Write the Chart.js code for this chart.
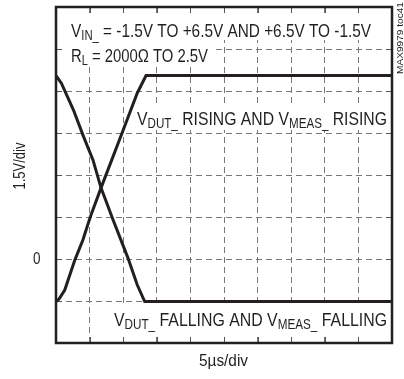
<!DOCTYPE html>
<html>
<head>
<meta charset="utf-8">
<script src="https://cdn.jsdelivr.net/npm/chart.js@4.4.1/dist/chart.umd.min.js"></script>
<style>
  html, body { margin: 0; padding: 0; background: #fff; }
  #myChart { display: block; }
</style>
</head>
<body>
<canvas id="myChart" width="404" height="379"></canvas>
<script>
// time in us, level in V
var fallTime = [0, 0.8, 2.6, 4.1, 5.5, 6.7, 8.5, 10.7, 12.1, 13.2, 50];
var fallVolt = [6.55, 6.28, 5.32, 4.37, 3.54, 2.54, 1.39, 0.04, -0.93, -1.52, -1.52];
var riseTime = [0, 0.45, 1.3, 2.8, 4.0, 5.1, 6.7, 8.3, 10.0, 12.1, 13.4, 50];
var riseVolt = [-1.52, -1.43, -1.11, -0.04, 0.68, 1.5, 2.54, 3.54, 4.61, 5.93, 6.55, 6.55];

var xRange = [0, 50], xStep = 5;     // 5us/div
var yRange = [-3, 9], yStep = 1.5;   // 1.5V/div
var yTickLabels = [0];

var FONT = '"Liberation Sans Narrow", "Arial Narrow", "Liberation Sans", Arial, sans-serif';
var INK = '#231f20';

function toPoints(xs, ys) {
	return xs.map(function(x, i) { return { x: x, y: ys[i] }; });
}

// draws text pieces (some as subscript) squeezed into width w
function richText(ctx, parts, x, y, w, size) {
	var subSize = Math.round(size * 0.76), total = 0;
	parts.forEach(function(p) {
		ctx.font = (p.sub ? subSize : size) + 'px ' + FONT;
		p.w = ctx.measureText(p.t).width;
		total += p.w;
	});
	ctx.save();
	ctx.translate(x, y);
	ctx.scale(w / total, 1);
	ctx.fillStyle = INK;
	ctx.textBaseline = 'alphabetic';
	ctx.textAlign = 'left';
	var cx = 0;
	parts.forEach(function(p) {
		ctx.font = (p.sub ? subSize : size) + 'px ' + FONT;
		ctx.fillText(p.t, cx, p.sub ? size * 0.18 : 0);
		cx += p.w;
	});
	ctx.restore();
}

function vertText(ctx, txt, cx, cy, w, size) {
	ctx.save();
	ctx.translate(cx, cy);
	ctx.rotate(-Math.PI / 2);
	richText(ctx, [{ t: txt }], -w / 2, 0, w, size);
	ctx.restore();
}

var scopePlugin = {
	id: 'scope',
	beforeDatasetsDraw: function(chart) {
		var ctx = chart.ctx, a = chart.chartArea;
		var xs = chart.scales.x, ys = chart.scales.y;
		ctx.save();
		// white boxes behind the notes
		ctx.fillStyle = '#fff';
		ctx.fillRect(62, 13, 324, 27);
		ctx.fillRect(62, 40, 150, 27);
		ctx.fillRect(131, 106, 257, 24);
		ctx.fillRect(110, 306, 278, 31);
		// short ticks on the frame
		ctx.strokeStyle = '#555';
		ctx.lineWidth = 1;
		ctx.beginPath();
		xs.ticks.forEach(function(t) {
			var px = Math.round(xs.getPixelForValue(t.value)) + 0.5;
			ctx.moveTo(px, a.top); ctx.lineTo(px, a.top + 6);
			ctx.moveTo(px, a.bottom); ctx.lineTo(px, a.bottom - 6);
		});
		ys.ticks.forEach(function(t) {
			var py = Math.round(ys.getPixelForValue(t.value)) + 0.5;
			ctx.moveTo(a.left, py); ctx.lineTo(a.left + 6, py);
			ctx.moveTo(a.right, py); ctx.lineTo(a.right - 6, py);
		});
		ctx.stroke();
		ctx.restore();
	},
	afterDatasetsDraw: function(chart) {
		var ctx = chart.ctx, a = chart.chartArea;
		ctx.save();
		ctx.strokeStyle = INK;
		ctx.lineWidth = 2.5;
		ctx.strokeRect(a.left, a.top, a.right - a.left, a.bottom - a.top);
		ctx.restore();
	},
	afterDraw: function(chart) {
		var ctx = chart.ctx, a = chart.chartArea, ys = chart.scales.y;
		richText(ctx, [{ t: 'V' }, { t: 'IN_', sub: true }, { t: ' = -1.5V TO +6.5V AND +6.5V TO -1.5V' }], 71, 37, 300, 19);
		richText(ctx, [{ t: 'R' }, { t: 'L', sub: true }, { t: ' = 2000\u03a9 TO 2.5V' }], 71, 62, 137, 19);
		richText(ctx, [{ t: 'V' }, { t: 'DUT_', sub: true }, { t: ' RISING AND V' }, { t: 'MEAS_', sub: true }, { t: ' RISING' }], 137, 125, 250, 19);
		richText(ctx, [{ t: 'V' }, { t: 'DUT_', sub: true }, { t: ' FALLING AND V' }, { t: 'MEAS_', sub: true }, { t: ' FALLING' }], 114, 326, 273, 19);
		yTickLabels.forEach(function(v) {
			var py = ys.getPixelForValue(v);
			richText(ctx, [{ t: String(v) }], 33, py + 5, 7.5, 16);
		});
		vertText(ctx, '1.5V/div', 25, 166, 47, 16);
		richText(ctx, [{ t: '5\u00b5s/div' }], 199, 366, 49, 16);
		vertText(ctx, 'MAX9979 toc41', 403, 38, 72, 9);
	}
};

var gridOpts = { color: '#777', lineWidth: 1, drawTicks: false };
var borderOpts = { display: false, dash: [6, 4] };

myChart = new Chart(document.getElementById('myChart'), {
	type: 'line',
	data: {
		datasets: [{
			label: 'falling',
			data: toPoints(fallTime, fallVolt),
			borderColor: INK,
			borderWidth: 3,
			pointRadius: 0,
			fill: false,
			tension: 0
		}, {
			label: 'rising',
			data: toPoints(riseTime, riseVolt),
			borderColor: INK,
			borderWidth: 3,
			pointRadius: 0,
			fill: false,
			tension: 0
		}]
	},
	options: {
		responsive: false,
		animation: false,
		devicePixelRatio: 1,
		layout: { padding: { left: 56, top: 7, right: 12, bottom: 36 } },
		plugins: {
			legend: { display: false },
			tooltip: { enabled: false }
		},
		scales: {
			x: {
				type: 'linear',
				min: xRange[0], max: xRange[1],
				ticks: { stepSize: xStep, display: false },
				grid: gridOpts,
				border: borderOpts,
				afterFit: function(s) { s.height = 0; }
			},
			y: {
				type: 'linear',
				min: yRange[0], max: yRange[1],
				ticks: { stepSize: yStep, display: false },
				grid: gridOpts,
				border: borderOpts,
				afterFit: function(s) { s.width = 0; }
			}
		}
	},
	plugins: [scopePlugin]
});
</script>
</body>
</html>
